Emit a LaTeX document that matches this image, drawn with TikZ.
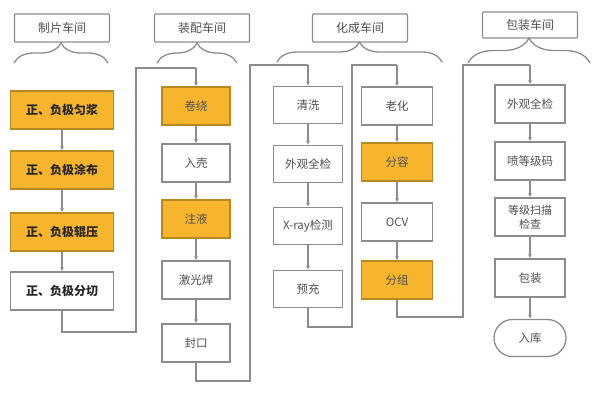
\documentclass[tikz,border=0pt]{standalone}
\usepackage{fontspec}
\setmainfont{Noto Sans CJK SC}
\usetikzlibrary{decorations.pathreplacing,arrows.meta,shapes.misc}
\definecolor{boxgold}{HTML}{F6B52C}
\definecolor{edgegray}{HTML}{8C8C8C}
\definecolor{txtgray}{HTML}{505050}
\begin{document}
\begin{tikzpicture}[x=1pt,y=-1pt,
  hdr/.style={draw=edgegray,line width=1.3pt,rounded corners=1pt,minimum width=95pt,minimum height=28pt,font=\fontsize{12}{13}\selectfont,text=txtgray,inner sep=0pt},
  brc/.style={draw=edgegray,line width=1.3pt,decorate,decoration={brace,amplitude=20pt}},
  proc/.style={draw=edgegray,line width=1.3pt,fill=white,minimum height=38pt,inner sep=0pt,font=\fontsize{11.5}{12}\selectfont,text=txtgray},
  gold/.style={fill=boxgold,draw=boxgold!75!black},
  wA/.style={minimum width=103pt,font=\fontsize{12}{13}\selectfont\bfseries,text=black!85},
  wB/.style={minimum width=69pt},
  wC/.style={minimum width=71pt},
  flow/.style={draw=edgegray,line width=1.3pt,-{Latex[length=4pt,width=4pt]}},
  link/.style={draw=edgegray,line width=1.3pt}]
\useasboundingbox (0,0) rectangle (600,400);
% headers
\node[hdr] (h1) at (62,28) {制片车间};
\node[hdr] (h2) at (202,28) {装配车间};
\node[hdr] (h3) at (360,28) {化成车间};
\node[hdr,minimum height=26pt] (h4) at (530,25) {包装车间};
\draw[brc] (14,63) -- (108,63);
\draw[brc] (157,63) -- (237,63);
\draw[brc] (277,62) -- (442,62);
\draw[brc,decoration={brace,amplitude=25pt}] (468,63) -- (590,63);
% column 1
\node[proc,gold,wA] (a1) at (62,110) {正、负极匀浆};
\node[proc,gold,wA] (a2) at (62,170) {正、负极涂布};
\node[proc,gold,wA] (a3) at (62,232) {正、负极辊压};
\node[proc,wA] (a4) at (62,291) {正、负极分切};
% column 2
\node[proc,gold,minimum width=68pt] (b1) at (196,106) {卷绕};
\node[proc,minimum width=68pt] (b2) at (196,163) {入壳};
\node[proc,gold,minimum width=68pt] (b3) at (196,219) {注液};
\node[proc,minimum width=68pt] (b4) at (196,280) {激光焊};
\node[proc,minimum width=68pt] (b5) at (196,343) {封口};
% column 3
\node[proc,wB,minimum height=37pt] (c1) at (308,105) {清洗};
\node[proc,wB,minimum height=37pt] (c2) at (308,164) {外观全检};
\node[proc,wB,minimum height=37pt] (c3) at (308,226) {X-ray检测};
\node[proc,wB,minimum height=37pt] (c4) at (308,289) {预充};
% column 4
\node[proc,wC] (d1) at (397,106) {老化};
\node[proc,gold,wC] (d2) at (397,162) {分容};
\node[proc,wC] (d3) at (397,222) {OCV};
\node[proc,gold,wC] (d4) at (397,280) {分组};
% column 5
\node[proc,minimum width=70pt] (e1) at (530,104) {外观全检};
\node[proc,minimum width=70pt] (e2) at (530,161) {喷等级码};
\node[proc,minimum width=70pt,align=center,font=\fontsize{11}{14}\selectfont] (e3) at (530,217) {等级扫描\\检查};
\node[proc,minimum width=70pt] (e4) at (530,278) {包装};
\node[proc,rounded rectangle,minimum width=72pt,minimum height=37pt] (e5) at (530,338) {入库};
% arrows within columns
\foreach \p/\q in {a1/a2,a2/a3,a3/a4,b1/b2,b2/b3,b3/b4,b4/b5,c1/c2,c2/c3,c3/c4,d1/d2,d2/d3,d3/d4,e1/e2,e2/e3,e3/e4,e4/e5}
  \draw[flow] (\p.south) -- (\q.north);
% links between columns
\coordinate (k1a) at (62,332); \coordinate (k1b) at (136,332);
\coordinate (k1c) at (136,68); \coordinate (k1d) at (196,68);
\draw[link] (a4.south) -- (k1a) -- (k1b) -- (k1c) -- (k1d);
\draw[flow] (k1d) -- (b1.north);
\coordinate (k2a) at (196,381); \coordinate (k2b) at (250,381);
\coordinate (k2c) at (250,65); \coordinate (k2d) at (308,65);
\draw[link] (b5.south) -- (k2a) -- (k2b) -- (k2c) -- (k2d);
\draw[flow] (k2d) -- (c1.north);
\coordinate (k3a) at (308,327); \coordinate (k3b) at (352,327);
\coordinate (k3c) at (352,65); \coordinate (k3d) at (397,65);
\draw[link] (c4.south) -- (k3a) -- (k3b) -- (k3c) -- (k3d);
\draw[flow] (k3d) -- (d1.north);
\coordinate (k4a) at (397,317); \coordinate (k4b) at (463,317);
\coordinate (k4c) at (463,65); \coordinate (k4d) at (530,65);
\draw[link] (d4.south) -- (k4a) -- (k4b) -- (k4c) -- (k4d);
\draw[flow] (k4d) -- (e1.north);
\end{tikzpicture}
\end{document}
